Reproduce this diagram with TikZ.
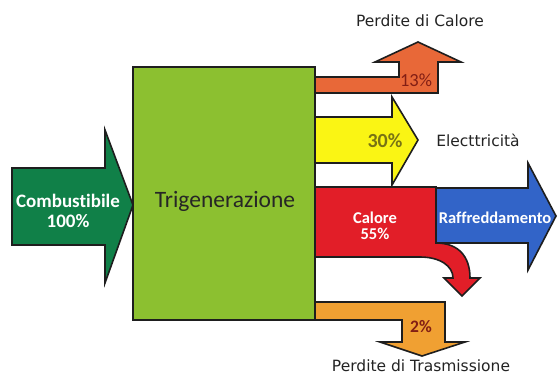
\documentclass[tikz,border=0pt]{standalone}
\usepackage{fontspec}
\setmainfont{DejaVu Sans}
\newfontfamily\carl[Ligatures={NoCommon}]{Carlito}
\definecolor{outl}{RGB}{30,30,30}
\definecolor{boxgreen}{RGB}{140,192,48}
\definecolor{arrgreen}{RGB}{16,128,72}
\definecolor{toporange}{RGB}{232,104,56}
\definecolor{yel}{RGB}{250,245,20}
\definecolor{redc}{RGB}{226,30,40}
\definecolor{bluec}{RGB}{50,100,200}
\definecolor{botorange}{RGB}{240,160,50}
\definecolor{txt}{RGB}{35,35,35}
\definecolor{darkred}{RGB}{130,30,20}
\definecolor{olive}{RGB}{120,115,20}
\begin{document}
\begin{tikzpicture}[x=1pt,y=-1pt,
  flow/.style={draw=outl, line width=1.6pt, line join=miter},
  lbl/.style={font=\fontsize{15.5}{18}\selectfont, text=txt, inner sep=0pt},
  whitelbl/.style={text=white, align=center, inner sep=0pt},
  pct/.style={inner sep=0pt}]
\useasboundingbox (0,0) rectangle (559,377);
% input arrow
\filldraw[flow, fill=arrgreen] (12,168) -- (105,168) -- (105,130) -- (133,205) -- (105,283) -- (105,245) -- (12,245) -- cycle;
% top orange flow (heat losses)
\filldraw[flow, fill=toporange] (310,77) -- (399,77) -- (399,62) -- (375,62) -- (418,42) -- (461,62) -- (438,62) -- (438,93) -- (310,93) -- cycle;
% yellow flow (electricity)
\filldraw[flow, fill=yel] (310,117) -- (392,117) -- (392,97) -- (418,140) -- (392,185) -- (392,163) -- (310,163) -- cycle;
% red flow (heat) with curved arrow
\filldraw[flow, fill=redc] (310,187) -- (436,187) -- (436,243) .. controls (458,243) and (470,256) .. (470,278) -- (480,278) -- (462,296) -- (444,278) -- (453,278) .. controls (453,266) and (440,257) .. (420,257) -- (310,257) -- cycle;
% blue flow (cooling)
\filldraw[flow, fill=bluec] (436,188) -- (528,188) -- (528,163) -- (556,216) -- (528,270) -- (528,243) -- (436,243) -- cycle;
% bottom orange flow (transmission losses)
\filldraw[flow, fill=botorange] (310,302) -- (445,302) -- (445,342) -- (465,342) -- (422,356) -- (380,342) -- (402,342) -- (402,320) -- (310,320) -- cycle;
% main box
\filldraw[flow, fill=boxgreen] (133,67) rectangle (315,320);
% texts
\node[whitelbl, font=\carl\bfseries\fontsize{19}{20}\selectfont] (comb) at (68,211) {Combustibile\\100\%};
\node[inner sep=0pt, text=black!85, font=\carl\fontsize{23.5}{26}\selectfont] (trig) at (225,201) {Trigenerazione};
\node[whitelbl, font=\carl\bfseries\fontsize{16.5}{16.5}\selectfont] (cal) at (375,226) {Calore\\55\%};
\node[whitelbl, font=\carl\bfseries\fontsize{16.5}{15}\selectfont] (raff) at (495,218) {Raffreddamento};
\node[pct, text=olive, font=\carl\bfseries\fontsize{20}{16}\selectfont] (p30) at (385,141) {30\%};
\node[pct, text=darkred, font=\carl\fontsize{18.5}{16}\selectfont] (p13) at (416,80) {13\%};
\node[pct, text=darkred, font=\carl\bfseries\fontsize{17.5}{16}\selectfont] (p2) at (421,327) {2\%};
\node[lbl] (pc) at (420,21) {Perdite di Calore};
\node[lbl] (el) at (478,140) {Electtricità};
\node[lbl] (pt) at (421,366) {Perdite di Trasmissione};
\end{tikzpicture}
\end{document}
